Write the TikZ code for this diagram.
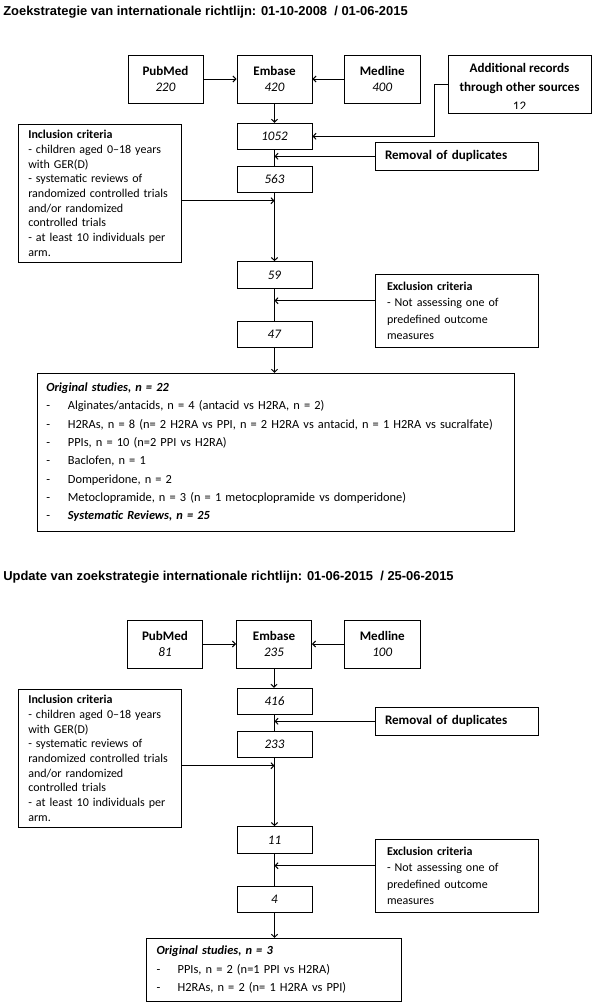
\documentclass[tikz,border=0pt]{standalone}
\usepackage{fontspec}
\setmainfont{Carlito}
\newfontfamily\ttlfont{Liberation Sans}
\usetikzlibrary{arrows.meta,calc}
\hyphenpenalty=10000
\exhyphenpenalty=10000
\newcommand\fbig{\fontsize{9.8pt}{12.5pt}\selectfont}
\newcommand\fsml{\fontsize{9pt}{11pt}\selectfont}
\newcommand\fexc{\fontsize{9pt}{12.3pt}\selectfont}
\newcommand\forg{\fontsize{9.3pt}{13.75pt}\selectfont}
\newcommand\fadd{\fontsize{9.8pt}{14pt}\selectfont}
\newcommand\fttl{\ttlfont\bfseries\fontsize{9.7pt}{11pt}\selectfont}
\newcommand\dsha{\makebox[16.2pt][l]{-}}
\newcommand\dshb{\makebox[15.8pt][l]{-}}
\begin{document}
\begin{tikzpicture}[x=0.75pt,y=-0.75pt,
  box/.style={draw, line width=0.75pt, inner sep=0pt, align=center, font=\fbig},
  srcbox/.style={box, minimum width=56.25pt, minimum height=36pt},
  numbox/.style={box, minimum width=56.25pt, minimum height=19.5pt},
  leftbox/.style={draw, line width=0.75pt, inner ysep=0pt, align=left},
  ln/.style={line width=0.75pt},
  arr/.style={line width=0.75pt, -{Straight Barb[length=2.2pt,width=4.6pt]}},
  ttl/.style={anchor=base west, inner sep=0pt, font=\fttl}
]
\useasboundingbox (0,0) rectangle (596,1004);

% ---------------- Section 1 ----------------
\node[ttl] (t1) at (3,15) {Zoekstrategie van internationale richtlijn: 01-10-2008\ \ / 01-06-2015};

\node[srcbox] (puba) at (165.5,79) {\textbf{PubMed}\\\textit{220}};
\node[srcbox] (emba) at (274.5,79) {\textbf{Embase}\\\textit{420}};
\node[srcbox, minimum width=57pt] (meda) at (382.3,79) {\textbf{Medline}\\\textit{400}};
\node[box, minimum width=107.25pt, minimum height=43.5pt] (adda) at (519.5,84) {};
\node[inner sep=0pt, align=center, font=\fadd\bfseries] (addt) at (519.5,78.3) {Additional records\\through other sources};
\begin{scope}
  \clip (448,56) rectangle (591,108.3);
  \node[inner sep=0pt, font=\fbig] (addn) at (519.5,106.7) {12};
\end{scope}

\node[numbox] (na1) at (274.5,136.3) {\textit{1052}};
\node[leftbox, minimum height=21pt, inner xsep=7.5pt, text width=107.25pt, font=\fbig\bfseries] (rema) at (456.5,156.3) {Removal of duplicates};
\node[numbox] (na2) at (274.5,179.5) {\textit{563}};
\node[leftbox, minimum height=103.5pt, inner xsep=7.5pt, text width=107.55pt, font=\fsml] (incla) at (100,193.3)
  {\textbf{Inclusion criteria}\\- children aged 0–18 years\\with GER(D)\\- systematic reviews of\\randomized controlled trials\\and/or randomized\\controlled trials\\- at least 10 individuals per\\arm.};
\node[numbox, minimum height=20pt] (na3) at (274.5,275) {\textit{59}};
\node[leftbox, minimum height=54.75pt, inner xsep=9pt, text width=104.25pt, font=\fexc] (excla) at (456.5,310.8)
  {\textbf{Exclusion criteria}\\- Not assessing one of\\predefined outcome\\measures};
\node[numbox] (na4) at (274.5,334.3) {\textit{47}};
\node[leftbox, minimum height=118.3pt, inner xsep=6.75pt, text width=344.25pt, font=\forg] (origa) at (275.8,452.2)
  {\textbf{\textit{Original studies, n = 22}}\\
   \dsha Alginates/antacids, n = 4 (antacid vs H2RA, n = 2)\\
   \dsha H2RAs, n = 8 (n= 2 H2RA vs PPI, n = 2 H2RA vs antacid, n = 1 H2RA vs sucralfate)\\
   \dsha PPIs, n = 10 (n=2 PPI vs H2RA)\\
   \dsha Baclofen, n = 1\\
   \dsha Domperidone, n = 2\\
   \dsha Metoclopramide, n = 3 (n = 1 metocplopramide vs domperidone)\\
   \dsha \textbf{\textit{Systematic Reviews,\ n = 25}}};

\coordinate (ija) at (274.5,200.7);
\coordinate (xja) at (274.5,300.7);
\draw[arr] (puba) -- (emba);
\draw[arr] (meda) -- (emba);
\draw[arr] (emba.south) -- (emba.south |- na1.north);
\draw[arr] (adda.west) -- ++(-13,0) |- (na1.east);
\draw[ln] (na1.south) -- (na1.south |- na2.north);
\draw[arr] (rema.west) -- (rema.west -| na1.south);
\draw[arr] (na2.south) -- (na2.south |- na3.north);
\draw[arr] (incla.east |- ija) -- (ija);
\draw[ln] (na3.south) -- (na3.south |- na4.north);
\draw[arr] (excla.west |- xja) -- (xja);
\draw[arr] (na4.south) -- (na4.south |- origa.north);

% ---------------- Section 2 ----------------
\node[ttl] (t2) at (3,580) {Update van zoekstrategie internationale richtlijn: 01-06-2015\ \ / 25-06-2015};
\begin{scope}[shift={(0,565)}]
\node[srcbox] (pubb) at (165,79) {\textbf{PubMed}\\\textit{81}};
\node[srcbox] (embb) at (274,79) {\textbf{Embase}\\\textit{235}};
\node[srcbox, minimum width=57pt] (medb) at (382.3,79) {\textbf{Medline}\\\textit{100}};

\node[numbox] (nb1) at (274.5,136.3) {\textit{416}};
\node[leftbox, minimum height=21pt, inner xsep=7.5pt, text width=107.25pt, font=\fbig\bfseries] (remb) at (456.5,156.3) {Removal of duplicates};
\node[numbox] (nb2) at (274.5,179.5) {\textit{233}};
\node[leftbox, minimum height=103.5pt, inner xsep=7.5pt, text width=107.55pt, font=\fsml] (inclb) at (100,193.3)
  {\textbf{Inclusion criteria}\\- children aged 0–18 years\\with GER(D)\\- systematic reviews of\\randomized controlled trials\\and/or randomized\\controlled trials\\- at least 10 individuals per\\arm.};
\node[numbox, minimum height=20pt] (nb3) at (274.5,275) {\textit{11}};
\node[leftbox, minimum height=54.75pt, inner xsep=9pt, text width=104.25pt, font=\fexc] (exclb) at (456.5,310.8)
  {\textbf{Exclusion criteria}\\- Not assessing one of\\predefined outcome\\measures};
\node[numbox] (nb4) at (274.5,334.3) {\textit{4}};
\node[leftbox, minimum height=47pt, inner xsep=7.9pt, text width=175.45pt, font=\forg] (origb) at (273.5,404.7)
  {\textbf{\textit{Original studies, n = 3}}\\
   \dshb PPIs, n = 2 (n=1 PPI vs H2RA)\\
   \dshb H2RAs, n = 2 (n= 1 H2RA vs PPI)};

\coordinate (ijb) at (274.5,200.7);
\coordinate (xjb) at (274.5,300.7);
\draw[arr] (pubb) -- (embb);
\draw[arr] (medb) -- (embb);
\draw[arr] (embb.south) -- (embb.south |- nb1.north);
\draw[ln] (nb1.south) -- (nb1.south |- nb2.north);
\draw[arr] (remb.west) -- (remb.west -| nb1.south);
\draw[arr] (nb2.south) -- (nb2.south |- nb3.north);
\draw[arr] (inclb.east |- ijb) -- (ijb);
\draw[ln] (nb3.south) -- (nb3.south |- nb4.north);
\draw[arr] (exclb.west |- xjb) -- (xjb);
\draw[arr] (nb4.south) -- (nb4.south |- origb.north);
\end{scope}
\end{tikzpicture}
\end{document}
